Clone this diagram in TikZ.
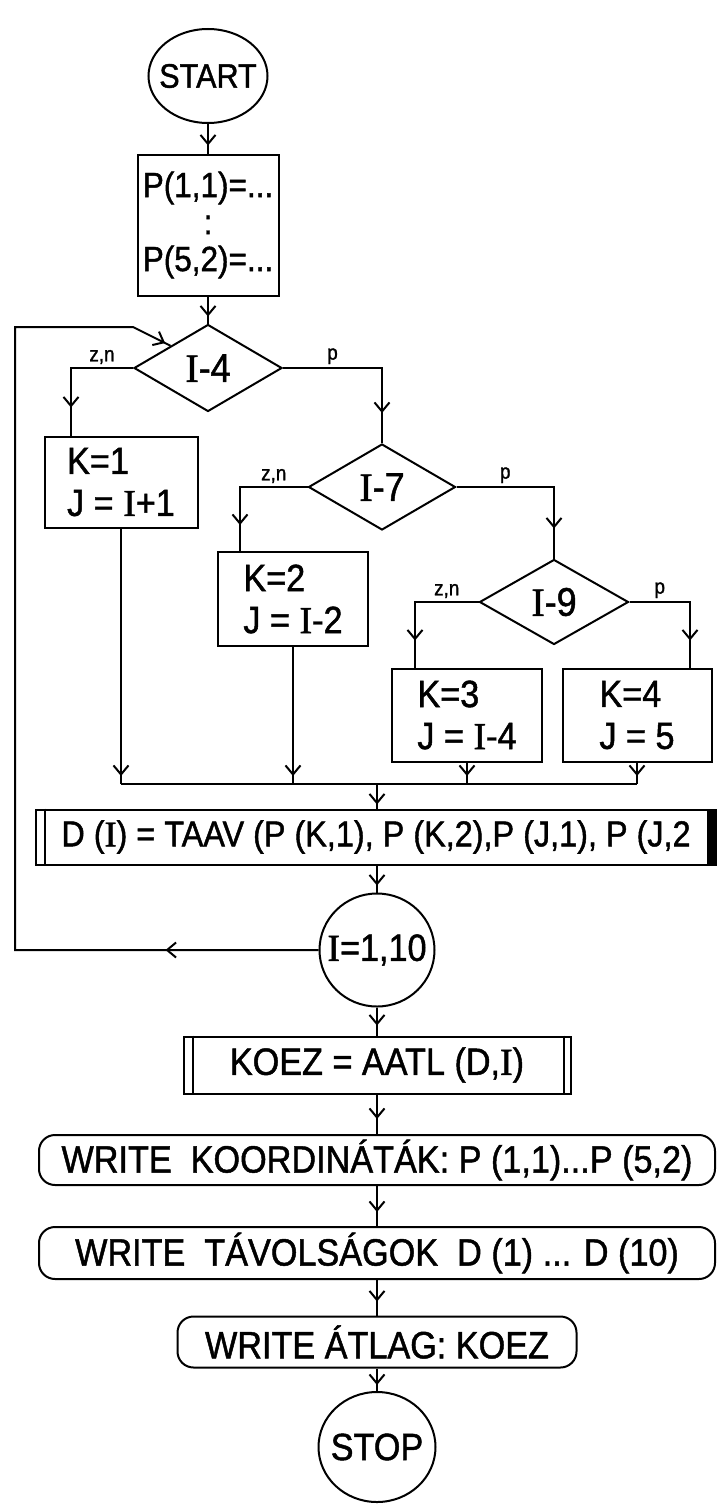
\documentclass[tikz,border=0pt]{standalone}
\usepackage{fontspec}
\setmainfont{Liberation Sans}[FakeStretch=0.9,FakeBold=1.2]
\newfontfamily\serifI{Liberation Serif}[FakeBold=1.2]
\usetikzlibrary{arrows.meta,positioning,shapes.geometric,decorations.markings}
\newcommand{\vI}{{\serifI I}}

\begin{document}
\begin{tikzpicture}[x=1pt,y=-1pt,line width=2pt,font=\fontsize{38}{42}\selectfont]
\tikzset{barb/.tip={Straight Barb[length=9pt,width=15pt]},
  flow/.style={postaction={decorate,decoration={markings,mark=at position #1 with {\arrow{barb}}}}},
  flow/.default=-8pt}
\tikzstyle{term}=[draw,ellipse,inner sep=0pt]
\tikzstyle{proc}=[draw,rectangle,inner sep=2pt,align=left]
\tikzstyle{test}=[draw,diamond,inner sep=0pt,font=\fontsize{40}{42}\selectfont]
\tikzstyle{outbox}=[draw,rectangle,rounded corners=16pt,inner sep=0pt]
\tikzstyle{yn}=[above,inner sep=3pt,font=\fontsize{21}{22}\selectfont]
\useasboundingbox (0,0) rectangle (717,1504);

% upper part
\node[term,minimum width=119pt,minimum height=94pt,label={[font=\fontsize{34}{36}\selectfont]center:START}] (start) at (208,76) {};
\node[proc,minimum width=141pt,minimum height=141pt,align=center,font=\fontsize{35}{37}\selectfont] (init) at (208,225) {P(1,1)=...\\:\\P(5,2)=...};
\node[test,minimum width=148pt,minimum height=87pt] (i4) at (208,368) {\vI-4};
\node[proc,minimum width=153pt,minimum height=91pt] (k1) at (121,482) {K=1\\J = \vI+1};
\node[test,minimum width=147pt,minimum height=86pt] (i7) at (382,487) {\vI-7};
\node[proc,minimum width=150pt,minimum height=94pt] (k2) at (293,599) {K=2\\J = \vI-2};
\node[test,minimum width=149pt,minimum height=85pt] (i9) at (554,602) {\vI-9};
\node[proc,minimum width=150pt,minimum height=93pt] (k3) at (467,715) {K=3\\J = \vI-4};
\node[proc,minimum width=149pt,minimum height=93pt] (k4) at (637,715) {K=4\\J = 5};
\coordinate (merge) at (377,784);
\coordinate (back) at (15,327);

% lower part
\node[proc,minimum width=680pt,minimum height=55pt,inner sep=0pt,font=\fontsize{36}{40}\selectfont] (dist) at (376,837) {D (\vI) = TAAV (P (K,1), P (K,2),P (J,1), P (J,2};
\node[term,minimum width=115pt,minimum height=113pt,label={center:{\vI=1,10}}] (loop) at (377,950) {};
\node[proc,minimum width=387pt,minimum height=57pt] (koez) at (377,1065) {KOEZ = AATL (D,\vI)};
\node[outbox,minimum width=676pt,minimum height=50pt] (w1) at (377,1160) {WRITE~~KOORDINÁTÁK: P (1,1)...P (5,2)};
\node[outbox,minimum width=676pt,minimum height=52pt] (w2) at (377,1253) {WRITE~~TÁVOLSÁGOK~~D (1) ... D (10)};
\node[outbox,minimum width=399pt,minimum height=51pt] (w3) at (377,1342) {WRITE ÁTLAG: KOEZ};
\node[term,minimum width=117pt,minimum height=110pt,label={center:STOP}] (stop) at (377,1447) {};

% double sides
\draw ([xshift=10pt]dist.north west) -- ([xshift=10pt]dist.south west);
\fill ([xshift=-10pt]dist.north east) rectangle (dist.south east);
\draw ([xshift=10pt]koez.north west) -- ([xshift=10pt]koez.south west);
\draw ([xshift=-8pt]koez.north east) -- ([xshift=-8pt]koez.south east);

% connectors
\draw[flow] (start) -- (init);
\draw[flow=-7pt] (init) -- (i4);
\draw[flow=-28pt] (i4.west) -| node[yn,pos=0.25]{z,n} ([xshift=-50pt]k1.north);
\draw[flow=-30pt] (i4.east) -| node[yn,pos=0.25]{p} (i7.north);
\draw[flow=-26pt] (i7.west) -| node[yn,pos=0.25]{z,n} ([xshift=-53pt]k2.north);
\draw[flow=-30pt] (i7.east) -| node[yn,pos=0.25]{p} (i9.north);
\draw[flow=-27pt] (i9.west) -| node[yn,pos=0.25]{z,n} ([xshift=-52pt]k3.north);
\draw[flow=-27pt] (i9.east) -| node[yn,pos=0.25]{p} ([xshift=53pt]k4.north);
\draw[flow] (k1.south) -- (k1.south |- merge);
\draw[flow] (k2.south) -- (k2.south |- merge);
\draw[flow] (k3.south) -- (k3.south |- merge);
\draw[flow] (k4.south) -- (k4.south |- merge);
\draw (k1.south |- merge) -- (k4.south |- merge);
\draw[flow=-4pt] (merge) -- (merge |- dist.north);
\draw[flow=-7pt] (merge |- dist.south) -- (loop);
\draw[flow=153pt,flow=-6pt] (loop.west) -| (back) -- (i4.west |- back) -- (i4.north west);
\draw[flow=-10pt] (loop) -- (koez);
\draw[flow=-15pt] (koez) -- (w1);
\draw[flow=-14pt] (w1) -- (w2);
\draw[flow=-14pt] (w2) -- (w3);
\draw[flow=-6pt] (w3) -- (stop);
\end{tikzpicture}
\end{document}
